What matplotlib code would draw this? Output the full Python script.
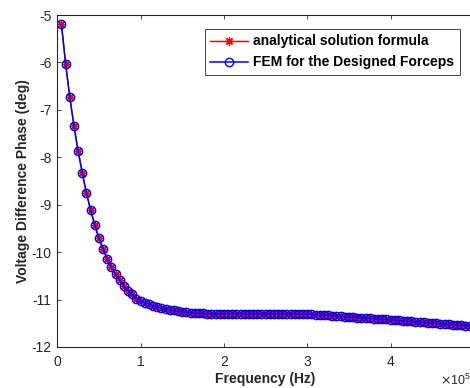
import numpy as np
import matplotlib
matplotlib.use("Agg")
import matplotlib.pyplot as plt

# ========== 数据==========
# 频率：5 kHz 到 500 kHz，步长 5 kHz
freq_hz = np.arange(1, 101) * 5e3

# 解析公式得到的相位差 (deg)
phase_analytical = [
    -5.20, -6.03, -6.73, -7.34, -7.87, -8.33, -8.76, -9.11, -9.43, -9.71,
    -9.94, -10.14, -10.32, -10.47, -10.59, -10.72, -10.81, -10.89, -10.98, -11.03,
    -11.07, -11.10, -11.13, -11.16, -11.18, -11.20, -11.22, -11.23, -11.25, -11.26,
    -11.27, -11.28, -11.29, -11.29, -11.29, -11.30, -11.30, -11.30, -11.30, -11.30,
    -11.30, -11.30, -11.30, -11.30, -11.30, -11.30, -11.30, -11.30, -11.30, -11.30,
    -11.30, -11.30, -11.30, -11.30, -11.30, -11.30, -11.30, -11.30, -11.30, -11.31,
    -11.31, -11.32, -11.32, -11.33, -11.33, -11.34, -11.34, -11.35, -11.36, -11.37,
    -11.37, -11.38, -11.38, -11.39, -11.39, -11.40, -11.41, -11.42, -11.42, -11.43,
    -11.43, -11.44, -11.45, -11.46, -11.46, -11.47, -11.47, -11.48, -11.49, -11.50,
    -11.50, -11.51, -11.51, -11.52, -11.53, -11.54, -11.54, -11.55, -11.55, -11.56,
]
# FEM 结果与解析解几乎重合
phase_fem = list(phase_analytical)

x_ticks = [0, 1, 2, 3, 4]
y_ticks = [-12, -11, -10, -9, -8, -7, -6, -5]

GRAY = "#262626"

plt.rcParams["font.family"] = ["Liberation Sans", "DejaVu Sans"]
plt.rcParams["font.size"] = 10

W, H = 470, 388
fig = plt.figure(figsize=(W / 100, H / 100), dpi=100)
# 轴右侧超出画布（原图被裁掉）
ax = fig.add_axes([57.3 / W, (H - 347) / H, 416.5 / W, 332 / H])

# MATLAB 风格的 '*' 标记：8 条辐条的星号
ax.plot(freq_hz, phase_analytical, color="red", lw=1.0, marker=(8, 2, 0),
        markersize=6, markeredgewidth=0.9, label="analytical solution formula")
ax.plot(freq_hz, phase_fem, color="blue", lw=1.1, marker="o",
        markersize=6, markerfacecolor="none", markeredgewidth=1.0,
        label="FEM for the Designed Forceps")

ax.set_xlim(0, 5e5)
ax.set_ylim(-12, -5)
ax.set_xticks([t * 1e5 for t in x_ticks])
ax.set_xticklabels([str(t) for t in x_ticks])
ax.set_yticks(y_ticks)
ax.set_yticklabels([str(t) for t in y_ticks])

for s in ax.spines.values():
    s.set_color(GRAY)
    s.set_linewidth(0.8)
ax.tick_params(direction="in", length=3, width=0.6, colors=GRAY,
               top=True, right=True, labelsize=10)
ax.tick_params(axis="x", pad=6)
ax.tick_params(axis="y", pad=4)

ax.set_xlabel("Frequency (Hz)", fontweight="bold", color=GRAY, labelpad=2)
ax.set_ylabel("Voltage Difference Phase (deg)", fontweight="bold", color=GRAY, labelpad=1)

leg = ax.legend(loc="upper right", fancybox=False, framealpha=1,
                edgecolor=GRAY, borderaxespad=1.0, handlelength=2.7,
                handletextpad=0.4, prop={"weight": "bold", "size": 10})
leg.get_frame().set_linewidth(0.6)

fig.text(440 / W, 1 - 380 / H, r"$\times\mathregular{10^{5}}$", color=GRAY,
         fontsize=9, va="center", ha="left")

fig.savefig("out.png", dpi=100)
